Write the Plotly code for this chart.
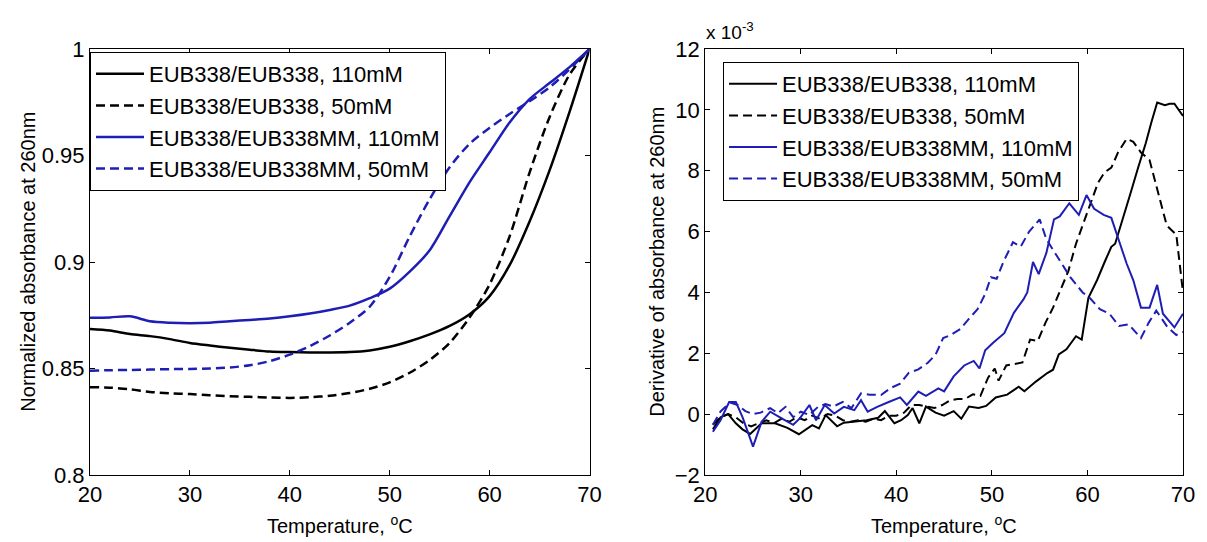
import plotly.graph_objects as go

# ---------------- data ----------------
temp_left = [20, 22, 24, 26, 28, 30, 32, 34, 36, 38, 40, 42, 44, 46, 48, 50,
             52, 54, 56, 58, 60, 62, 64, 66, 68, 70]
norm_pm_110 = [0.8685, 0.8678, 0.8662, 0.8652, 0.8638, 0.8620, 0.8608, 0.8597, 0.8588, 0.8580,
               0.8577, 0.8575, 0.8575, 0.8577, 0.8585, 0.8602, 0.8628, 0.8660, 0.8700, 0.8755,
               0.8840, 0.8985, 0.9190, 0.9430, 0.9705, 1.0000]
norm_pm_50 = [0.8412, 0.8410, 0.8402, 0.8390, 0.8384, 0.8380, 0.8375, 0.8370, 0.8367, 0.8364,
              0.8362, 0.8365, 0.8372, 0.8385, 0.8405, 0.8435, 0.8480, 0.8540, 0.8620, 0.8740,
              0.8895, 0.9120, 0.9420, 0.9680, 0.9880, 1.0000]
norm_mm_110 = [0.8738, 0.8740, 0.8745, 0.8722, 0.8715, 0.8713, 0.8715, 0.8722, 0.8728, 0.8735,
               0.8745, 0.8758, 0.8775, 0.8795, 0.8830, 0.8875, 0.8955, 0.9055, 0.9215, 0.9375,
               0.9515, 0.9655, 0.9765, 0.9840, 0.9915, 1.0000]
norm_mm_50 = [0.8490, 0.8492, 0.8493, 0.8495, 0.8497, 0.8498, 0.8500, 0.8505, 0.8515, 0.8535,
              0.8565, 0.8605, 0.8655, 0.8715, 0.8790, 0.8930, 0.9120, 0.9295, 0.9445, 0.9555,
              0.9630, 0.9695, 0.9755, 0.9820, 0.9905, 1.0000]

# derivative (units of 1e-3)
temp_pm_110 = [20.8, 21.6, 22.4, 23.2, 23.9, 24.7, 25.9, 27.3, 28.6, 29.8,
               31.2, 31.9, 32.6, 33.8, 34.5, 35.5, 36.9, 38.1, 38.8, 39.8,
               40.5, 41.2, 41.7, 42.4, 43.1, 44.1, 45.0, 46.0, 46.8, 47.6,
               48.6, 49.4, 50.4, 51.6, 52.8, 53.4, 54.6, 55.8, 56.4, 57.0,
               57.8, 58.8, 59.4, 60.1, 61.0, 61.8, 62.5, 62.9, 63.7, 64.5,
               65.3, 66.1, 66.7, 67.3, 68.1, 68.6, 69.1, 70.0]
deriv_pm_110 = [-0.5, -0.1, 0.0, -0.3, -0.5, -0.65, -0.3, -0.3, -0.45, -0.66,
                -0.36, -0.47, -0.03, -0.4, -0.28, -0.25, -0.2, -0.12, 0.1, -0.3,
                -0.2, -0.03, 0.2, -0.3, 0.25, 0.05, -0.05, 0.1, -0.15, 0.25,
                0.2, 0.27, 0.55, 0.64, 0.9, 0.75, 1.07, 1.35, 1.46, 1.96,
                2.13, 2.56, 2.45, 3.82, 4.4, 5.0, 5.5, 5.6, 6.4, 7.25,
                8.1, 8.9, 9.6, 10.24, 10.15, 10.2, 10.2, 9.8]

temp_pm_50 = [20.8, 21.6, 22.4, 23.2, 24.0, 24.8, 25.6, 26.4, 27.2, 28.0,
              28.8, 29.6, 30.4, 31.2, 32.0, 32.8, 33.6, 34.4, 35.2, 36.0,
              36.8, 37.6, 38.4, 39.2, 40.0, 40.8, 41.6, 42.4, 43.2, 44.0,
              44.8, 45.6, 46.4, 47.2, 48.0, 48.8, 49.6, 50.3, 50.7, 51.5,
              52.4, 53.2, 54.0, 54.8, 55.6, 56.4, 57.2, 58.0, 58.8, 59.6,
              60.4, 61.1, 61.8, 62.5, 63.2, 64.1, 64.8, 65.6, 66.5, 67.4,
              68.3, 69.3, 70.0]
deriv_pm_50 = [-0.35, -0.1, 0.0, -0.1, -0.3, -0.4, -0.3, -0.2, -0.3, -0.15,
               -0.25, -0.1, -0.2, -0.05, -0.15, 0.0, -0.05, -0.2, -0.25, -0.2,
               -0.25, -0.15, -0.2, -0.05, -0.05, 0.05, 0.3, 0.3, 0.25, 0.2,
               0.3, 0.45, 0.5, 0.5, 0.65, 0.6, 1.2, 1.5, 1.1, 1.6,
               1.65, 1.7, 2.45, 2.4, 3.0, 3.5, 4.1, 4.7, 5.6, 6.3,
               7.0, 7.6, 7.95, 8.1, 8.6, 9.05, 8.95, 8.6, 8.35, 7.3,
               6.2, 5.9, 4.0]

temp_mm_110 = [20.8, 21.6, 22.5, 23.2, 23.9, 25.0, 25.9, 26.8, 28.0, 29.2,
               29.9, 30.9, 31.6, 32.5, 33.5, 34.5, 35.6, 36.3, 37.0, 38.0,
               39.2, 40.4, 41.1, 42.3, 43.1, 44.4, 45.0, 46.0, 47.1, 48.1,
               48.7, 49.3, 50.1, 51.3, 52.3, 53.3, 53.7, 54.3, 54.9, 55.7,
               56.5, 57.1, 58.1, 59.1, 59.9, 60.7, 61.7, 62.5, 63.3, 64.1,
               64.8, 65.6, 66.5, 67.3, 67.9, 69.1, 70.0]
deriv_mm_110 = [-0.58, -0.2, 0.4, 0.4, -0.1, -1.07, -0.25, 0.08, -0.14, -0.35,
                -0.14, 0.3, -0.2, 0.3, 0.02, 0.24, 0.13, 0.46, 0.08, 0.24,
                0.4, 0.55, 0.3, 0.74, 0.6, 0.85, 0.75, 1.24, 1.6, 1.75,
                1.5, 2.1, 2.34, 2.66, 3.33, 3.77, 4.0, 5.0, 4.6, 5.3,
                6.4, 6.5, 6.93, 6.55, 7.2, 6.75, 6.55, 6.45, 5.7, 4.95,
                4.4, 3.5, 3.5, 4.25, 3.3, 2.85, 3.3]

temp_mm_50 = [20.8, 21.6, 22.6, 23.4, 24.2, 25.0, 25.8, 26.8, 27.6, 28.4,
              29.2, 30.0, 30.9, 31.8, 32.6, 33.4, 34.4, 35.3, 36.3, 37.2,
              38.4, 39.4, 40.4, 41.3, 42.3, 43.3, 44.1, 44.9, 45.7, 46.7,
              47.5, 48.5, 49.3, 49.9, 50.5, 51.2, 52.2, 53.0, 53.9, 55.0,
              55.7, 56.8, 58.2, 59.5, 60.3, 61.3, 62.3, 63.3, 64.3, 65.6,
              66.4, 67.2, 68.4, 69.3, 70.0]
deriv_mm_50 = [-0.35, 0.09, 0.38, 0.3, 0.1, 0.0, 0.05, 0.2, 0.03, 0.24,
               -0.1, 0.08, -0.03, 0.24, 0.33, 0.25, 0.4, 0.2, 0.68, 0.64,
               0.63, 0.86, 1.0, 1.36, 1.47, 1.69, 1.95, 2.5, 2.6, 2.8,
               3.1, 3.45, 3.95, 4.5, 4.45, 5.0, 5.65, 5.5, 6.0, 6.4,
               5.75, 5.2, 4.5, 4.0, 3.8, 3.45, 3.3, 2.9, 2.95, 2.5,
               3.0, 3.4, 2.85, 2.6, 2.7]

series_names = ["EUB338/EUB338, 110mM", "EUB338/EUB338, 50mM",
                "EUB338/EUB338MM, 110mM", "EUB338/EUB338MM, 50mM"]
x_ticks = [20, 30, 40, 50, 60, 70]
left_y_ticks = [0.8, 0.85, 0.9, 0.95, 1.0]
left_y_labels = ["0.8", "0.85", "0.9", "0.95", "1"]
right_y_ticks = [-2, 0, 2, 4, 6, 8, 10, 12]

# ---------------- figure ----------------
BLACK = "#000000"
BLUE = "#1e1eb4"
FONT = "Arial, Liberation Sans, sans-serif"
colors = [BLACK, BLACK, BLUE, BLUE]
dashes = ["solid", "9px,5px", "solid", "9px,5px"]

fig = go.Figure()
left_sets = [norm_pm_110, norm_pm_50, norm_mm_110, norm_mm_50]
for i, ys in enumerate(left_sets):
    fig.add_trace(go.Scatter(
        x=temp_left, y=ys, mode="lines", name=series_names[i],
        line=dict(color=colors[i], width=2.5, dash=dashes[i], shape="spline", smoothing=0.8),
        xaxis="x", yaxis="y", legend="legend", legendgroup="L%d" % i))

right_sets = [(temp_pm_110, deriv_pm_110), (temp_pm_50, deriv_pm_50),
              (temp_mm_110, deriv_mm_110), (temp_mm_50, deriv_mm_50)]
for i, (xs, ys) in enumerate(right_sets):
    fig.add_trace(go.Scatter(
        x=xs, y=ys, mode="lines", name=series_names[i],
        line=dict(color=colors[i], width=2, dash=dashes[i]),
        xaxis="x2", yaxis="y2", legend="legend2", legendgroup="R%d" % i))

axis_common = dict(showline=True, linecolor=BLACK, linewidth=1, mirror="ticks",
                   ticks="inside", ticklen=5, tickcolor=BLACK, showgrid=False,
                   zeroline=False, tickfont=dict(family=FONT, size=22, color=BLACK))

W, H = 1207, 542
ml, mr, mt, mb = 90, 12, 49, 67
pw, ph = W - ml - mr, H - mt - mb


def px_x(p):
    return (p - ml) / pw


def px_y(p):
    return (H - mb - p) / ph


legend_common = dict(bgcolor="white", bordercolor=BLACK, borderwidth=1,
                     font=dict(family=FONT, size=22, color=BLACK),
                     xanchor="left", yanchor="top", traceorder="grouped",
                     tracegroupgap=0, itemwidth=48)

fig.update_layout(
    width=W, height=H,
    margin=dict(l=ml, r=mr, t=mt, b=mb),
    paper_bgcolor="white", plot_bgcolor="white",
    font=dict(family=FONT, size=21, color=BLACK),
    xaxis=dict(domain=[0, px_x(595)], range=[20, 70], tickvals=x_ticks, anchor="y", **axis_common),
    yaxis=dict(domain=[0, 1], range=[0.8, 1.0], tickvals=left_y_ticks, ticktext=left_y_labels,
               anchor="x", **axis_common),
    xaxis2=dict(domain=[px_x(712), px_x(1195)], range=[20, 70], tickvals=x_ticks, anchor="y2",
                **axis_common),
    yaxis2=dict(domain=[0, 1], range=[-2, 12], tickvals=right_y_ticks, anchor="x2", **axis_common),
    legend=dict(x=px_x(90), y=px_y(52), **legend_common),
    legend2=dict(x=px_x(730), y=px_y(62), **legend_common),
    showlegend=True,
)

ann_font = dict(family=FONT, size=20, color=BLACK)
fig.add_annotation(text="Normalized absorbance at 260nm", xref="paper", yref="paper",
                   x=px_x(27), y=0.5, textangle=-90, showarrow=False, font=ann_font,
                   xanchor="center", yanchor="middle")
fig.add_annotation(text="Derivative of absorbance at 260nm", xref="paper", yref="paper",
                   x=px_x(663), y=0.5, textangle=-90, showarrow=False, font=ann_font,
                   xanchor="center", yanchor="middle")
fig.add_annotation(text="Temperature, <sup>o</sup>C", xref="paper", yref="paper",
                   x=px_x(342.5), y=px_y(524), showarrow=False, font=ann_font,
                   xanchor="center", yanchor="middle")
fig.add_annotation(text="Temperature, <sup>o</sup>C", xref="paper", yref="paper",
                   x=px_x(953.5), y=px_y(524), showarrow=False, font=ann_font,
                   xanchor="center", yanchor="middle")
fig.add_annotation(text="x 10<sup>-3</sup>", xref="paper", yref="paper",
                   x=px_x(711), y=px_y(45), showarrow=False,
                   font=dict(family=FONT, size=19, color=BLACK),
                   xanchor="left", yanchor="bottom")

fig.write_html("out.html")
